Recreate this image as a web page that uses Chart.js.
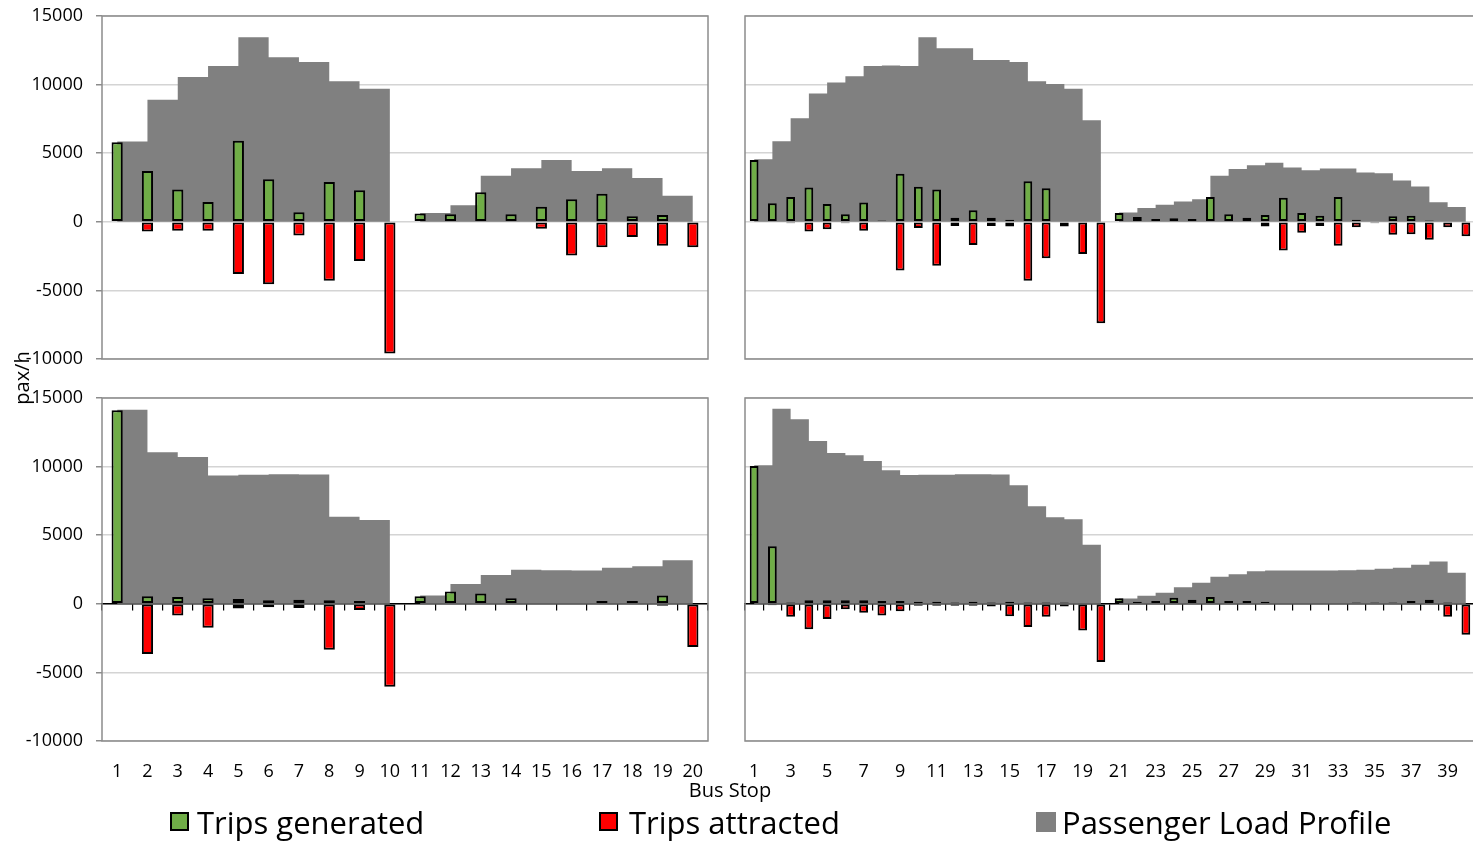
<!DOCTYPE html>
<html>
<head>
<meta charset="utf-8">
<title>Bus stop trips and load profile</title>
<script src="https://cdn.jsdelivr.net/npm/chart.js@4.4.1/dist/chart.umd.min.js"></script>
<style>
  html, body { margin: 0; padding: 0; background: #fff; overflow: hidden; }
  #page { position: relative; width: 1473px; height: 842px; overflow: hidden; font-family: "Open Sans", sans-serif; color: #000; }
  #page canvas { position: absolute; }
  .txt { position: absolute; white-space: nowrap; }
  .sw { position: absolute; box-sizing: border-box; }
</style>
</head>
<body>
<div id="page">
  <canvas id="cTL" width="720" height="380" style="left:0;top:0"></canvas>
  <canvas id="cTR" width="760" height="380" style="left:720px;top:0"></canvas>
  <canvas id="cBL" width="720" height="420" style="left:0;top:380px"></canvas>
  <canvas id="cBR" width="760" height="420" style="left:720px;top:380px"></canvas>

  <div class="txt" style="left:-28px;top:366px;width:100px;height:24px;line-height:24px;font-size:20px;text-align:center;transform:rotate(-90deg)">pax/h</div>
  <div class="txt" style="left:630px;top:778px;width:200px;line-height:24px;font-size:20px;text-align:center">Bus Stop</div>

  <div class="sw" style="left:170px;top:812px;width:19px;height:19px;background:#70ad47;border:2px solid #000"></div>
  <div class="txt" style="left:197px;top:802px;line-height:40px;font-size:31px">Trips generated</div>
  <div class="sw" style="left:599px;top:812px;width:19px;height:19px;background:#ff0000;border:2px solid #000"></div>
  <div class="txt" style="left:629px;top:802px;line-height:40px;font-size:31px">Trips attracted</div>
  <div class="sw" style="left:1036px;top:812px;width:20px;height:20px;background:#808080"></div>
  <div class="txt" style="left:1062px;top:802px;line-height:40px;font-size:31px">Passenger Load Profile</div>
</div>

<script>
// bus stops (categories)
const stops20 = ['1', '2', '3', '4', '5', '6', '7', '8', '9', '10',
                 '11', '12', '13', '14', '15', '16', '17', '18', '19', '20'];
const stops40 = ['1', '2', '3', '4', '5', '6', '7', '8', '9', '10',
                 '11', '12', '13', '14', '15', '16', '17', '18', '19', '20',
                 '21', '22', '23', '24', '25', '26', '27', '28', '29', '30',
                 '31', '32', '33', '34', '35', '36', '37', '38', '39', '40'];
const yTicks = [-10000, -5000, 0, 5000, 10000, 15000];

// top left
const genTL = [5800, 3700, 2350, 1450, 5900, 3100, 700, 2900, 2300, 0,
               600, 550, 2150, 550, 1100, 1650, 2050, 400, 500, 0];
const attTL = [0, -700, -650, -650, -3800, -4550, -1000, -4300, -2850, -9600,
               0, 0, 0, -50, -500, -2450, -1850, -1100, -1750, -1850];
const loadTL = [5850, 8900, 10550, 11350, 13450, 12000, 11650, 10250, 9700, 0,
                650, 1200, 3350, 3900, 4500, 3700, 3900, 3200, 1900, 0];

// top right
const genTR = [4500, 1350, 1800, 2500, 1300, 550, 1400, 100, 3500, 2550,
               2350, 300, 850, 300, 150, 2950, 2450, 0, 0, 0,
               650, 350, 200, 250, 200, 1800, 550, 300, 500, 1750,
               650, 450, 1800, 150, 50, 400, 450, 100, 50, 0];
const attTR = [0, 0, -100, -700, -550, -100, -650, -50, -3550, -450,
               -3200, -300, -1700, -300, -350, -4300, -2650, -350, -2350, -7400,
               0, 0, 0, 0, 0, 0, 0, 0, -350, -2100,
               -800, -300, -1750, -400, -100, -950, -900, -1300, -400, -1050];
const loadTR = [4550, 5870, 7550, 9350, 10150, 10600, 11350, 11400, 11350, 13450,
                12650, 12650, 11800, 11800, 11650, 10250, 10050, 9700, 7400, 0,
                680, 1000, 1240, 1480, 1640, 3350, 3850, 4130, 4300, 3960,
                3750, 3880, 3880, 3600, 3540, 3010, 2570, 1430, 1070, 0];

// bottom left
const genBL = [14100, 550, 500, 400, 350, 250, 300, 250, 200, 0,
               550, 900, 750, 400, 50, 50, 200, 200, 600, 0];
const attBL = [0, -3650, -850, -1750, -350, -250, -300, -3350, -450, -6050,
               0, -50, 0, 0, -50, -50, -50, -50, -150, -3150];
const loadBL = [14150, 11050, 10700, 9350, 9400, 9450, 9420, 6350, 6100, 0,
                600, 1450, 2100, 2480, 2450, 2430, 2620, 2740, 3180, 0];

// bottom right
const genBR = [10050, 4200, 100, 250, 250, 250, 250, 200, 200, 150,
               150, 100, 150, 100, 150, 100, 100, 100, 50, 0,
               400, 150, 200, 450, 300, 500, 200, 200, 150, 50,
               50, 50, 50, 100, 100, 100, 200, 300, 100, 0];
const attBR = [0, -100, -950, -1850, -1100, -400, -650, -850, -550, -150,
               -150, -150, -150, -200, -900, -1700, -950, -200, -1950, -4250,
               0, -50, 0, 0, 0, 0, -50, -50, -50, -50,
               -50, -50, -50, -50, -50, -50, -50, 0, -950, -2250];
const loadBR = [10100, 14220, 13450, 11870, 11000, 10830, 10410, 9730, 9390, 9410,
                9410, 9440, 9440, 9420, 8640, 7110, 6310, 6160, 4300, 0,
                390, 580, 800, 1210, 1530, 1970, 2160, 2380, 2430, 2430,
                2430, 2430, 2450, 2480, 2550, 2620, 2840, 3080, 2260, 0];

Chart.defaults.font.family = '"Open Sans", sans-serif';
Chart.defaults.color = '#000';

// plot frame round the chart area
const framePlugin = {
    id: 'frame',
    afterDatasetsDraw(chart) {
        const a = chart.chartArea;
        const ctx = chart.ctx;
        ctx.save();
        ctx.strokeStyle = '#8c8c8c';
        ctx.lineWidth = 1.5;
        ctx.strokeRect(a.left, a.top, a.right - a.left, a.bottom - a.top);
        ctx.restore();
    }
};

function makeChart(id, o) {
    const scales = {
        x: {
            type: 'category',
            offset: true,
            grid: { display: false, drawTicks: false },
            border: { display: false },
            ticks: {
                display: o.showX,
                autoSkip: false,
                maxRotation: 0,
                padding: 20,
                font: { size: 18 },
                callback: function (val, i) {
                    return i % o.labelStep === 0 ? this.getLabelForValue(val) : '';
                }
            },
            afterFit: s => {
                s.height = o.xHeight;
                s.paddingLeft = 0;
                s.paddingRight = 0;
            }
        },
        y: {
            min: yTicks[0],
            max: yTicks[yTicks.length - 1],
            afterBuildTicks: s => { s.ticks = yTicks.map(v => ({ value: v })); },
            grid: {
                color: '#d4d4d4',
                lineWidth: 1.5,
                drawTicks: o.showY,
                tickLength: 6,
                tickColor: '#8c8c8c'
            },
            border: { display: false },
            ticks: {
                display: o.showY,
                padding: 13,
                font: { size: 18 },
                callback: v => String(v)
            },
            afterFit: s => {
                s.width = o.yWidth;
                s.paddingTop = 0;
                s.paddingBottom = 0;
            }
        }
    };
    if (o.zeroAxis) {
        scales.x0 = {
            type: 'category',
            position: { y: 0 },
            offset: true,
            z: 1,
            ticks: { display: false },
            grid: { offset: true, drawOnChartArea: false, drawTicks: true, tickLength: 6, color: '#000', lineWidth: 1.2 },
            border: { display: true, color: '#000', width: 1.5 }
        };
    }

    return new Chart(document.getElementById(id), {
        type: 'bar',
        data: {
            labels: o.labels,
            datasets: [{
                label: 'Trips generated',
                data: o.gen,
                backgroundColor: '#70ad47',
                borderColor: '#000',
                borderWidth: 2,
                borderSkipped: false,
                grouped: false,
                categoryPercentage: 1,
                barPercentage: o.barPct
            }, {
                label: 'Trips attracted',
                data: o.att,
                backgroundColor: '#ff0000',
                borderColor: '#000',
                borderWidth: 2,
                borderSkipped: false,
                grouped: false,
                categoryPercentage: 1,
                barPercentage: o.barPct
            }, {
                // load of stop i holds from stop i to stop i+1
                type: 'line',
                label: 'Passenger Load Profile',
                data: o.load,
                stepped: 'before',
                fill: 'origin',
                backgroundColor: '#808080',
                borderColor: 'rgba(0,0,0,0)',
                borderWidth: 0,
                pointRadius: 0
            }]
        },
        options: {
            responsive: false,
            animation: false,
            events: [],
            layout: { padding: o.pad },
            plugins: { legend: { display: false }, tooltip: { enabled: false } },
            scales: scales
        },
        plugins: [framePlugin]
    });
}

makeChart('cTL', {
    labels: stops20, gen: genTL, att: attTL, load: loadTL,
    showX: false, showY: true, zeroAxis: false, labelStep: 1, barPct: 0.37,
    xHeight: 21, yWidth: 102, pad: { top: 16, right: 12, left: 0, bottom: 0 }
});
makeChart('cTR', {
    labels: stops40, gen: genTR, att: attTR, load: loadTR,
    showX: false, showY: false, zeroAxis: false, labelStep: 2, barPct: 0.48,
    xHeight: 21, yWidth: 25, pad: { top: 16, right: 5, left: 0, bottom: 0 }
});
makeChart('cBL', {
    labels: stops20, gen: genBL, att: attBL, load: loadBL,
    showX: true, showY: true, zeroAxis: true, labelStep: 1, barPct: 0.37,
    xHeight: 59, yWidth: 102, pad: { top: 18, right: 12, left: 0, bottom: 0 }
});
makeChart('cBR', {
    labels: stops40, gen: genBR, att: attBR, load: loadBR,
    showX: true, showY: false, zeroAxis: true, labelStep: 2, barPct: 0.48,
    xHeight: 59, yWidth: 25, pad: { top: 18, right: 5, left: 0, bottom: 0 }
});
</script>
</body>
</html>
